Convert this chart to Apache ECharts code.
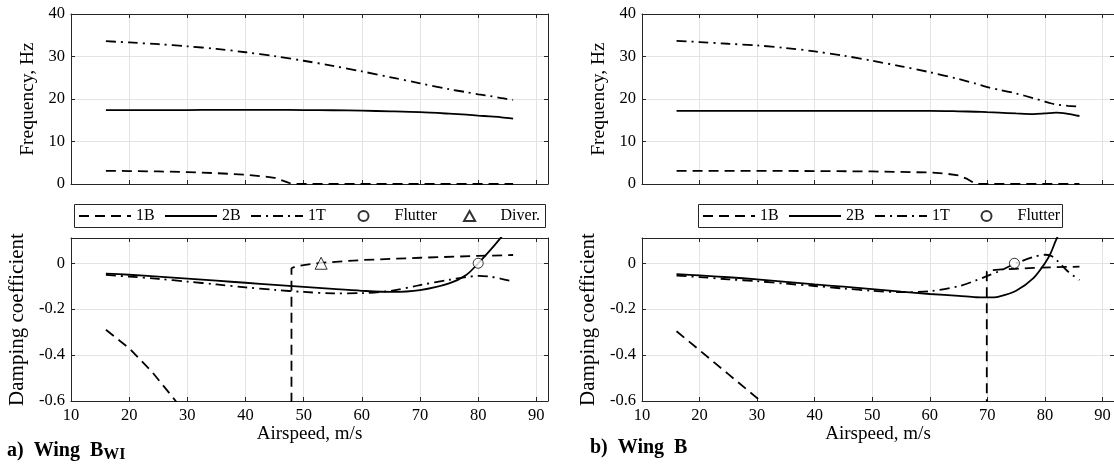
<!DOCTYPE html>
<html>
<head>
<meta charset="utf-8">
<script src="https://cdn.jsdelivr.net/npm/echarts@6/dist/echarts.min.js"></script>
<style>
html,body{margin:0;padding:0;background:#fff;}
#chart{width:1114px;height:464px;}
</style>
</head>
<body>
<div id="chart"></div>
<script>
// ---------- DATA ----------
// Panel a) Wing B_WI
const speedA = [16,20,25,30,35,40,45,50,55,60,65,70,75,78,80,82,84,86];
const freq2B_A = [17.4,17.4,17.4,17.4,17.45,17.45,17.45,17.4,17.35,17.25,17.1,16.9,16.55,16.3,16.1,15.9,15.7,15.4];
const freq1T_A = [33.6,33.3,32.9,32.4,31.8,31.0,30.1,29.0,27.8,26.5,25.1,23.7,22.3,21.6,21.1,20.7,20.2,19.8];
const damp2B_A = [-0.045,-0.05,-0.058,-0.067,-0.076,-0.085,-0.094,-0.103,-0.112,-0.12,-0.125,-0.117,-0.088,-0.05,0.0,0.055,0.115,0.18];
const damp1T_A = [-0.051,-0.058,-0.068,-0.08,-0.092,-0.105,-0.116,-0.125,-0.131,-0.13,-0.12,-0.095,-0.072,-0.06,-0.055,-0.058,-0.068,-0.08];
const speed1B_freqA = [16,20,25,30,35,40,43,45,47,48,60,70,80,86];
const freq1B_A = [3.1,3.05,2.95,2.8,2.55,2.2,1.8,1.45,0.5,0,0,0,0,0];
const speed1B_dampA = [16,20,24,28,34,40,47.9,47.9,48.5,50,53,60,70,80,86];
const damp1B_A = [-0.29,-0.37,-0.475,-0.6,-0.78,-0.97,-1.2,-0.022,-0.015,-0.008,0.002,0.014,0.024,0.032,0.036];
const flutterA = [80, 0];
const divergA = [53, 0];

// Panel b) Wing B
const speedB = [16,20,25,30,35,40,45,50,55,60,65,68,70,72,75,78,80,81,82,84,86];
const freq2B_B = [17.2,17.2,17.2,17.2,17.2,17.2,17.2,17.2,17.2,17.2,17.1,17.0,16.9,16.8,16.6,16.45,16.6,16.7,16.8,16.5,16.0];
const freq1T_B = [33.7,33.4,33.0,32.6,32.0,31.2,30.2,29.0,27.7,26.3,24.7,23.6,22.8,22.2,21.3,20.2,19.4,19.0,18.7,18.4,18.2];
const damp2B_B = [-0.047,-0.053,-0.061,-0.07,-0.081,-0.092,-0.102,-0.113,-0.124,-0.134,-0.142,-0.148,-0.149,-0.145,-0.12,-0.065,0.0,0.044,0.105,0.2,0.3];
const damp1T_B = [-0.054,-0.06,-0.07,-0.078,-0.089,-0.099,-0.11,-0.12,-0.126,-0.122,-0.1,-0.075,-0.055,-0.035,0.0,0.027,0.037,0.033,0.015,-0.036,-0.073];
const speed1B_freqB = [16,30,40,50,55,60,63,65,66.5,68,75,80,86];
const freq1B_B = [3.1,3.1,3.05,2.95,2.85,2.7,2.4,2.0,1.2,0,0,0,0];
const speed1B_dampB = [16,20,25,30.6,40,50,60,69.9,69.9,71,72.5,75,78,82,86];
const damp1B_B = [-0.296,-0.379,-0.483,-0.6,-0.8,-1.0,-1.2,-1.4,-0.036,-0.03,-0.027,-0.024,-0.02,-0.017,-0.015];
const flutterB = [74.7, 0];

// Axis ticks
const speedTicks = {min: 10, max: 92, interval: 10};
const freqTicks = {min: 0, max: 40, interval: 10};
const dampTicks = {min: -0.6, max: 0.11, interval: 0.2};
const legendA = ['1B','2B','1T','Flutter','Diver.'];
const legendB = ['1B','2B','1T','Flutter'];

// ---------- STYLE ----------
const FONT = 'Liberation Serif';
const AX = '#262626';
const GRIDC = '#e3e3e3';
const DASH = [10, 6];
const DASHDOT = [10, 5, 2, 5];
const LW = 1.8;

const zip = (xs, ys) => xs.map((x, i) => [x, ys[i]]);

const grids = [
  {left: 71, top: 14, width: 477, height: 170},
  {left: 71, top: 238, width: 477, height: 163},
  {left: 642, top: 14, width: 477, height: 170},
  {left: 642, top: 238, width: 477, height: 163}
];

const xAxes = [], yAxes = [];
function addAxes(g, showX, yR, yName, yNameGap, yNameSize) {
  xAxes.push({
    gridIndex: g, type: 'value', min: speedTicks.min, max: speedTicks.max, interval: speedTicks.interval,
    position: 'bottom',
    axisLine: {show: true, onZero: false, lineStyle: {color: AX, width: 1}},
    axisTick: {show: true, inside: true, length: 4, lineStyle: {color: AX}},
    axisLabel: {show: showX, showMaxLabel: false, margin: 6, color: '#000', fontFamily: FONT, fontSize: 16.5},
    splitLine: {show: true, lineStyle: {color: GRIDC, width: 1}},
    name: showX ? 'Airspeed, m/s' : '', nameLocation: 'middle', nameGap: 22,
    nameTextStyle: {color: '#000', fontFamily: FONT, fontSize: 19}
  });
  xAxes.push({
    gridIndex: g, type: 'value', min: speedTicks.min, max: speedTicks.max, interval: speedTicks.interval,
    position: 'top',
    axisLine: {show: true, onZero: false, lineStyle: {color: AX, width: 1}},
    axisTick: {show: true, inside: true, length: 4, lineStyle: {color: AX}},
    axisLabel: {show: false}, splitLine: {show: false}
  });
  yAxes.push({
    gridIndex: g, type: 'value', min: yR.min, max: yR.max, interval: yR.interval,
    position: 'left',
    axisLine: {show: true, onZero: false, lineStyle: {color: AX, width: 1}},
    axisTick: {show: true, inside: true, length: 4, lineStyle: {color: AX}},
    axisLabel: {show: true, showMaxLabel: yR.max === 40, margin: 6, color: '#000', fontFamily: FONT, fontSize: 16.5,
      formatter: v => (Math.abs(v) < 1e-9 ? '0' : String(+v.toFixed(2)))},
    splitLine: {show: true, lineStyle: {color: GRIDC, width: 1}},
    name: yName, nameLocation: 'middle', nameGap: yNameGap,
    nameTextStyle: {color: '#000', fontFamily: FONT, fontSize: yNameSize}
  });
  yAxes.push({
    gridIndex: g, type: 'value', min: yR.min, max: yR.max, interval: yR.interval,
    position: 'right',
    axisLine: {show: true, onZero: false, lineStyle: {color: AX, width: 1}},
    axisTick: {show: true, inside: true, length: 4, lineStyle: {color: AX}},
    axisLabel: {show: false}, splitLine: {show: false}
  });
}
addAxes(0, false, freqTicks, 'Frequency, Hz', 33, 19.5);
addAxes(1, true, dampTicks, 'Damping coefficient', 43, 21);
addAxes(2, false, freqTicks, 'Frequency, Hz', 33, 19.5);
addAxes(3, true, dampTicks, 'Damping coefficient', 43, 21);

function line(name, g, data, type, smooth) {
  return {
    name, type: 'line', xAxisIndex: g * 2, yAxisIndex: g * 2, data,
    symbol: 'none', smooth: smooth ? 0.3 : false, clip: true, animation: false,
    lineStyle: {color: '#000', width: LW, type},
    itemStyle: {color: '#000'}, z: 3
  };
}
function marker(name, g, pt, sym, size) {
  return {
    name, type: 'scatter', xAxisIndex: g * 2, yAxisIndex: g * 2, data: [pt],
    symbol: sym, symbolSize: size, animation: false, z: 5,
    itemStyle: {color: '#fff', borderColor: '#000', borderWidth: 1}
  };
}

const series = [
  line('1B', 0, zip(speed1B_freqA, freq1B_A), DASH, false),
  line('2B', 0, zip(speedA, freq2B_A), 'solid', true),
  line('1T', 0, zip(speedA, freq1T_A), DASHDOT, true),
  line('1B', 1, zip(speed1B_dampA, damp1B_A), DASH, false),
  line('2B', 1, zip(speedA, damp2B_A), 'solid', true),
  line('1T', 1, zip(speedA, damp1T_A), DASHDOT, true),
  marker('Flutter', 1, flutterA, 'circle', 10),
  marker('Diver.', 1, divergA, 'triangle', 12),
  line('1B', 2, zip(speed1B_freqB, freq1B_B), DASH, false),
  line('2B', 2, zip(speedB, freq2B_B), 'solid', true),
  line('1T', 2, zip(speedB, freq1T_B), DASHDOT, true),
  line('1B', 3, zip(speed1B_dampB, damp1B_B), DASH, false),
  line('2B', 3, zip(speedB, damp2B_B), 'solid', true),
  line('1T', 3, zip(speedB, damp1T_B), DASHDOT, true),
  marker('Flutter', 3, flutterB, 'circle', 10)
];

// one legend component per entry, so the entries sit where they do in the reference
const LINE_NAMES = ['1B','2B','1T'];
function legendItem(name, left) {
  const isLine = LINE_NAMES.indexOf(name) >= 0;
  const item = {name};
  if (isLine) item.itemStyle = {opacity: 0};
  if (name === 'Diver.') item.icon = 'path://M5,0 L10,9 L0,9 Z';
  return {
    left, top: 208, orient: 'horizontal', data: [item], selectedMode: false,
    itemWidth: 52, itemHeight: isLine ? 2 : 10, padding: 0,
    textStyle: {color: '#000', fontFamily: FONT, fontSize: 16}
  };
}
const legendLeftsA = [78, 164, 250, 357.5, 463];
const legendLeftsB = [702, 788, 874, 980.5];
const legends = legendA.map((n, i) => legendItem(n, legendLeftsA[i]))
  .concat(legendB.map((n, i) => legendItem(n, legendLeftsB[i])));

const titleRich = {
  a: {fontFamily: FONT, fontSize: 20, fontWeight: 'bold', color: '#000'},
  s: {fontFamily: FONT, fontSize: 16, fontWeight: 'bold', color: '#000', padding: [9, 0, 0, 0]}
};

const option = {
  backgroundColor: '#fff',
  animation: false,
  grid: grids,
  xAxis: xAxes,
  yAxis: yAxes,
  legend: legends,
  graphic: [
    {type: 'rect', shape: {x: 74.5, y: 204.5, width: 471, height: 23}, style: {fill: 'none', stroke: AX, lineWidth: 1}, z: 1},
    {type: 'rect', shape: {x: 698.5, y: 204.5, width: 364, height: 23}, style: {fill: 'none', stroke: AX, lineWidth: 1}, z: 1}
  ],
  title: [
    {text: '{a|a)  Wing  B}{s|WI}', left: 7, top: 438, padding: 0, textStyle: {rich: titleRich}},
    {text: '{a|b)  Wing  B}', left: 590, top: 438, padding: 0, textStyle: {rich: titleRich}}
  ],
  series
};

const chart = echarts.init(document.getElementById('chart'), null, {renderer: 'canvas'});
chart.setOption(option);
</script>
</body>
</html>
